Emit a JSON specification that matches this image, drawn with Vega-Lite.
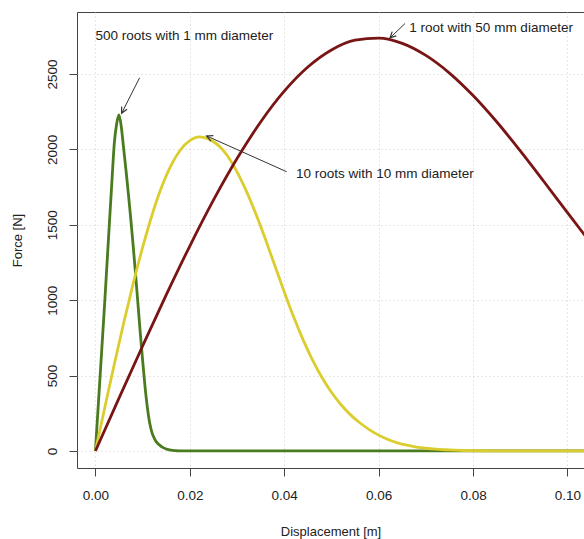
{
  "$schema": "https://vega.github.io/schema/vega-lite/v6.json",
  "width": 507,
  "height": 456,
  "autosize": {"type": "none"},
  "padding": {"left": 77, "top": 12, "right": 0, "bottom": 71},
  "background": "white",
  "config": {
    "font": "Liberation Sans",
    "view": {"stroke": "#444444", "strokeWidth": 1},
    "axis": {
      "domain": false,
      "tickColor": "#444444",
      "tickSize": 8,
      "labelFont": "Liberation Sans",
      "labelFontSize": 13.5,
      "labelColor": "#222222",
      "titleFont": "Liberation Sans",
      "titleFontSize": 13,
      "titleFontWeight": "normal",
      "titleColor": "#222222",
      "grid": true,
      "gridColor": "#cfcfcf",
      "gridDash": [1, 3],
      "gridWidth": 1
    }
  },
  "datasets": {
    "curves": [
      {"s": "500 roots", "x": 0, "F": 0},
      {"s": "500 roots", "x": 0.001, "F": 500},
      {"s": "500 roots", "x": 0.002, "F": 1000},
      {"s": "500 roots", "x": 0.003, "F": 1530},
      {"s": "500 roots", "x": 0.0035, "F": 1790},
      {"s": "500 roots", "x": 0.004, "F": 2040},
      {"s": "500 roots", "x": 0.0045, "F": 2170},
      {"s": "500 roots", "x": 0.005, "F": 2228},
      {"s": "500 roots", "x": 0.0055, "F": 2145},
      {"s": "500 roots", "x": 0.006, "F": 2000},
      {"s": "500 roots", "x": 0.0065, "F": 1855},
      {"s": "500 roots", "x": 0.007, "F": 1700},
      {"s": "500 roots", "x": 0.0075, "F": 1535},
      {"s": "500 roots", "x": 0.008, "F": 1360},
      {"s": "500 roots", "x": 0.0085, "F": 1175},
      {"s": "500 roots", "x": 0.009, "F": 980},
      {"s": "500 roots", "x": 0.0095, "F": 785},
      {"s": "500 roots", "x": 0.01, "F": 600},
      {"s": "500 roots", "x": 0.0105, "F": 430},
      {"s": "500 roots", "x": 0.011, "F": 290},
      {"s": "500 roots", "x": 0.0115, "F": 185},
      {"s": "500 roots", "x": 0.012, "F": 120},
      {"s": "500 roots", "x": 0.0125, "F": 82},
      {"s": "500 roots", "x": 0.013, "F": 57},
      {"s": "500 roots", "x": 0.014, "F": 29},
      {"s": "500 roots", "x": 0.015, "F": 13},
      {"s": "500 roots", "x": 0.016, "F": 5},
      {"s": "500 roots", "x": 0.017, "F": 2},
      {"s": "500 roots", "x": 0.018, "F": 0},
      {"s": "500 roots", "x": 0.03, "F": 0},
      {"s": "500 roots", "x": 0.05, "F": 0},
      {"s": "500 roots", "x": 0.07, "F": 0},
      {"s": "500 roots", "x": 0.09, "F": 0},
      {"s": "500 roots", "x": 0.105, "F": 0},
      {"s": "10 roots", "x": 0, "F": 0},
      {"s": "10 roots", "x": 0.002, "F": 290},
      {"s": "10 roots", "x": 0.004, "F": 575},
      {"s": "10 roots", "x": 0.006, "F": 850},
      {"s": "10 roots", "x": 0.008, "F": 1110},
      {"s": "10 roots", "x": 0.01, "F": 1350},
      {"s": "10 roots", "x": 0.012, "F": 1565},
      {"s": "10 roots", "x": 0.014, "F": 1748},
      {"s": "10 roots", "x": 0.016, "F": 1893},
      {"s": "10 roots", "x": 0.018, "F": 1996},
      {"s": "10 roots", "x": 0.02, "F": 2058},
      {"s": "10 roots", "x": 0.022, "F": 2083},
      {"s": "10 roots", "x": 0.024, "F": 2068},
      {"s": "10 roots", "x": 0.026, "F": 2028},
      {"s": "10 roots", "x": 0.028, "F": 1956},
      {"s": "10 roots", "x": 0.03, "F": 1851},
      {"s": "10 roots", "x": 0.032, "F": 1721},
      {"s": "10 roots", "x": 0.034, "F": 1571},
      {"s": "10 roots", "x": 0.036, "F": 1405},
      {"s": "10 roots", "x": 0.038, "F": 1230},
      {"s": "10 roots", "x": 0.04, "F": 1055},
      {"s": "10 roots", "x": 0.042, "F": 888},
      {"s": "10 roots", "x": 0.044, "F": 737},
      {"s": "10 roots", "x": 0.046, "F": 603},
      {"s": "10 roots", "x": 0.048, "F": 487},
      {"s": "10 roots", "x": 0.05, "F": 389},
      {"s": "10 roots", "x": 0.052, "F": 308},
      {"s": "10 roots", "x": 0.054, "F": 241},
      {"s": "10 roots", "x": 0.056, "F": 187},
      {"s": "10 roots", "x": 0.058, "F": 142},
      {"s": "10 roots", "x": 0.06, "F": 105},
      {"s": "10 roots", "x": 0.062, "F": 76},
      {"s": "10 roots", "x": 0.064, "F": 54},
      {"s": "10 roots", "x": 0.066, "F": 38},
      {"s": "10 roots", "x": 0.068, "F": 26},
      {"s": "10 roots", "x": 0.07, "F": 18},
      {"s": "10 roots", "x": 0.072, "F": 12},
      {"s": "10 roots", "x": 0.074, "F": 8},
      {"s": "10 roots", "x": 0.076, "F": 5},
      {"s": "10 roots", "x": 0.078, "F": 3},
      {"s": "10 roots", "x": 0.08, "F": 2},
      {"s": "10 roots", "x": 0.084, "F": 1},
      {"s": "10 roots", "x": 0.09, "F": 0},
      {"s": "10 roots", "x": 0.105, "F": 0},
      {"s": "1 root", "x": 0, "F": 0},
      {"s": "1 root", "x": 0.005, "F": 350},
      {"s": "1 root", "x": 0.01, "F": 696},
      {"s": "1 root", "x": 0.015, "F": 1035},
      {"s": "1 root", "x": 0.02, "F": 1359},
      {"s": "1 root", "x": 0.025, "F": 1663},
      {"s": "1 root", "x": 0.03, "F": 1939},
      {"s": "1 root", "x": 0.035, "F": 2182},
      {"s": "1 root", "x": 0.04, "F": 2386},
      {"s": "1 root", "x": 0.045, "F": 2546},
      {"s": "1 root", "x": 0.05, "F": 2659},
      {"s": "1 root", "x": 0.055, "F": 2724},
      {"s": "1 root", "x": 0.06, "F": 2738},
      {"s": "1 root", "x": 0.065, "F": 2703},
      {"s": "1 root", "x": 0.07, "F": 2623},
      {"s": "1 root", "x": 0.075, "F": 2506},
      {"s": "1 root", "x": 0.08, "F": 2357},
      {"s": "1 root", "x": 0.085, "F": 2183},
      {"s": "1 root", "x": 0.09, "F": 1990},
      {"s": "1 root", "x": 0.095, "F": 1787},
      {"s": "1 root", "x": 0.1, "F": 1580},
      {"s": "1 root", "x": 0.105, "F": 1376}
    ],
    "labels": [
      {"label": "500 roots with 1 mm diameter", "x": 0.0, "F": 2752},
      {"label": "1 root with 50 mm diameter", "x": 0.0665, "F": 2806},
      {"label": "10 roots with 10 mm diameter", "x": 0.0425, "F": 1834}
    ],
    "arrows": [
      {"id": "a", "x": 0.00936, "F": 2475, "xt": 0.00555, "Ft": 2239},
      {"id": "b", "x": 0.0656, "F": 2835, "xt": 0.0624, "Ft": 2739},
      {"id": "c", "x": 0.0405, "F": 1852, "xt": 0.02356, "Ft": 2089}
    ]
  },
  "layer": [
    {
      "data": {"name": "curves"},
      "mark": {"type": "line", "strokeWidth": 2.8, "clip": true, "interpolate": "monotone"},
      "encoding": {
        "x": {
          "field": "x", "type": "quantitative",
          "scale": {"domain": [-0.0039, 0.1035], "nice": false, "zero": false},
          "axis": {"values": [0, 0.02, 0.04, 0.06, 0.08, 0.1], "format": ".2f", "title": "Displacement [m]", "labelPadding": 12, "titlePadding": 24}
        },
        "y": {
          "field": "F", "type": "quantitative",
          "scale": {"domain": [-113, 2911], "nice": false, "zero": false},
          "axis": {"values": [0, 500, 1000, 1500, 2000, 2500], "format": "d", "labelAngle": -90, "labelAlign": "center", "labelBaseline": "bottom", "labelPadding": 10, "title": "Force [N]", "titlePadding": 21}
        },
        "color": {
          "field": "s", "type": "nominal",
          "scale": {"domain": ["500 roots", "10 roots", "1 root"], "range": ["#4b7b1f", "#dccd2e", "#7a1515"]},
          "legend": null
        },
        "order": {"field": "x", "type": "quantitative"}
      }
    },
    {
      "data": {"name": "arrows"},
      "mark": {"type": "rule", "color": "#333333", "strokeWidth": 1},
      "encoding": {
        "x": {"field": "x", "type": "quantitative"},
        "y": {"field": "F", "type": "quantitative"},
        "x2": {"field": "xt"},
        "y2": {"field": "Ft"}
      }
    },
    {
      "data": {"name": "arrows"},
      "transform": [{"filter": "datum.id == 'a'"}],
      "mark": {"type": "point", "shape": "M-0.5,1L0,0L0.5,1", "filled": false, "stroke": "#333333", "strokeWidth": 1.2, "size": 144, "angle": 207, "opacity": 1},
      "encoding": {"x": {"field": "xt", "type": "quantitative"}, "y": {"field": "Ft", "type": "quantitative"}}
    },
    {
      "data": {"name": "arrows"},
      "transform": [{"filter": "datum.id == 'b'"}],
      "mark": {"type": "point", "shape": "M-0.5,1L0,0L0.5,1", "filled": false, "stroke": "#333333", "strokeWidth": 1.2, "size": 144, "angle": 226, "opacity": 1},
      "encoding": {"x": {"field": "xt", "type": "quantitative"}, "y": {"field": "Ft", "type": "quantitative"}}
    },
    {
      "data": {"name": "arrows"},
      "transform": [{"filter": "datum.id == 'c'"}],
      "mark": {"type": "point", "shape": "M-0.5,1L0,0L0.5,1", "filled": false, "stroke": "#333333", "strokeWidth": 1.2, "size": 144, "angle": 294, "opacity": 1},
      "encoding": {"x": {"field": "xt", "type": "quantitative"}, "y": {"field": "Ft", "type": "quantitative"}}
    },
    {
      "data": {"name": "labels"},
      "mark": {"type": "text", "align": "left", "baseline": "middle", "fontSize": 13.5, "color": "#222222", "font": "Liberation Sans"},
      "encoding": {
        "x": {"field": "x", "type": "quantitative"},
        "y": {"field": "F", "type": "quantitative"},
        "text": {"field": "label"}
      }
    }
  ]
}
